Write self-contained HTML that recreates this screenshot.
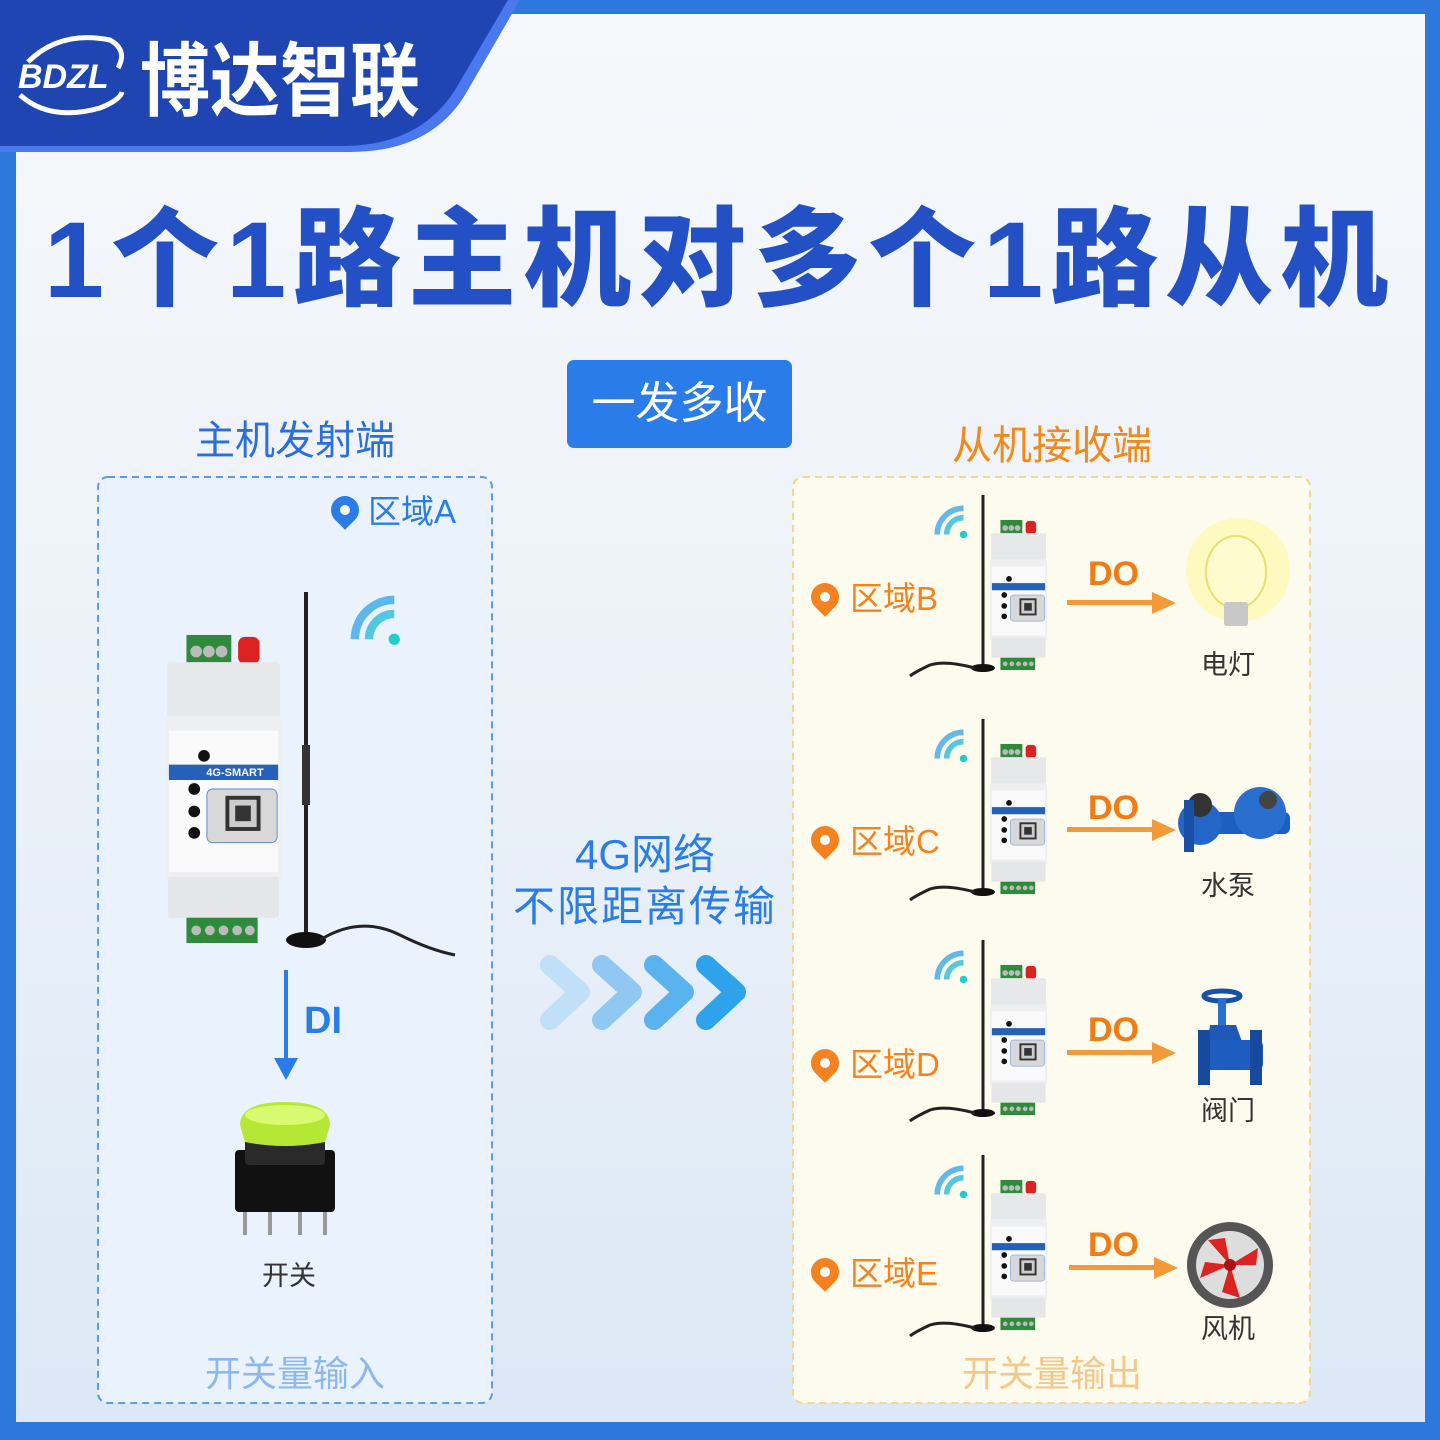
<!DOCTYPE html>
<html><head><meta charset="utf-8">
<style>
*{margin:0;padding:0;box-sizing:border-box}
body{width:1440px;height:1440px;position:relative;overflow:hidden;background:#2c78dc;font-family:"Liberation Sans","Noto Sans CJK SC",sans-serif}
.inner{position:absolute;left:16px;top:14px;width:1409px;height:1408px;background:linear-gradient(180deg,#f6f8fb 0%,#eef3f9 40%,#dce8f6 100%)}
.a{position:absolute;white-space:nowrap}
</style></head><body>
<div class="inner"></div>
<svg class="a" style="left:0;top:0" width="1440" height="1440">
<defs>
<symbol id="dev" viewBox="0 0 120 320">
 <rect x="22" y="2" width="46" height="28" fill="#2f8a3c"/>
 <circle cx="32" cy="19" r="6" fill="#bbb"/><circle cx="45" cy="19" r="6" fill="#bbb"/><circle cx="58" cy="19" r="6" fill="#bbb"/>
 <rect x="75" y="4" width="22" height="28" rx="7" fill="#d22"/>
 <rect x="2" y="30" width="116" height="60" rx="4" fill="#e6e8ea"/>
 <rect x="0" y="85" width="120" height="170" rx="3" fill="#eeeff0"/>
 <rect x="4" y="100" width="112" height="145" fill="#fafafa"/>
 <rect x="4" y="135" width="112" height="15" fill="#2660b8"/>
 <circle cx="40" cy="126" r="6" fill="#111"/><circle cx="30" cy="160" r="6" fill="#111"/><circle cx="30" cy="183" r="6" fill="#111"/><circle cx="30" cy="205" r="6" fill="#111"/>
 <rect x="43" y="160" width="72" height="55" rx="6" fill="#d8d8d8" stroke="#5a8ad8"/>
 <rect x="62" y="167" width="36" height="36" fill="#333"/><rect x="66" y="171" width="28" height="28" fill="#ccc"/><rect x="72" y="177" width="16" height="16" fill="#333"/>
 <rect x="3" y="250" width="114" height="42" rx="3" fill="#e4e6e8"/>
 <rect x="22" y="292" width="73" height="26" fill="#2f8a3c"/>
 <circle cx="32" cy="305" r="5" fill="#bbb"/><circle cx="46" cy="305" r="5" fill="#bbb"/><circle cx="60" cy="305" r="5" fill="#bbb"/><circle cx="74" cy="305" r="5" fill="#bbb"/><circle cx="87" cy="305" r="5" fill="#bbb"/>
</symbol>
<symbol id="wifi" viewBox="0 0 80 80">
 <path d="M18 60 A 42 42 0 0 1 60 18" fill="none" stroke="#3aa8e8" stroke-width="9" opacity=".8"/>
 <path d="M33 60 A 27 27 0 0 1 60 33" fill="none" stroke="#2bbbd8" stroke-width="9" opacity=".8"/>
 <circle cx="60" cy="60" r="6" fill="#2cc"/>
</symbol>
</defs>
<path d="M0 0 H520 L465 95 Q430 152 350 152 H0 Z" fill="#4a78ee"/>
<path d="M0 0 H508 L455 90 Q420 145 345 146 H0 Z" fill="#1f45b2"/>
<path d="M28 62 Q60 30 110 40 Q128 50 118 68" fill="none" stroke="#fff" stroke-width="5"/>
<path d="M20 95 Q50 122 100 108 Q120 100 122 92" fill="none" stroke="#fff" stroke-width="5"/>
<rect x="98" y="477" width="394" height="926" rx="10" fill="#eaf3fd" stroke="#5b9be8" stroke-width="2" stroke-dasharray="7 5"/>
<rect x="793" y="477" width="517" height="926" rx="10" fill="#fdfaee" stroke="#f3d690" stroke-width="2" stroke-dasharray="7 5"/>
<rect x="567" y="360" width="225" height="88" rx="7" fill="#2a7de8"/>
<use href="#wifi" x="338" y="583" width="75" height="75"/>
<line x1="306" y1="592" x2="306" y2="935" stroke="#222" stroke-width="4"/>
<rect x="302" y="745" width="8" height="60" fill="#333"/>
<ellipse cx="306" cy="940" rx="20" ry="8" fill="#111"/>
<path d="M320 940 Q360 915 400 935 Q430 950 455 955" fill="none" stroke="#222" stroke-width="3"/>
<use href="#dev" x="165" y="630" width="117" height="318"/>
<rect x="169" y="765" width="109" height="15" fill="#2660b8"/>
<line x1="286" y1="970" x2="286" y2="1062" stroke="#2a7de8" stroke-width="4"/>
<path d="M274 1058 L286 1080 L298 1058 Z" fill="#2a7de8"/>
<rect x="235" y="1150" width="100" height="62" rx="4" fill="#111"/>
<rect x="245" y="1130" width="80" height="35" rx="4" fill="#2a2a2a"/>
<path d="M240 1125 Q240 1102 285 1102 Q330 1102 330 1125 L325 1142 Q285 1150 245 1142 Z" fill="#b5e835"/>
<ellipse cx="285" cy="1115" rx="40" ry="10" fill="#d8fa70"/>
<line x1="245" y1="1212" x2="245" y2="1235" stroke="#999" stroke-width="4"/><line x1="270" y1="1212" x2="270" y2="1235" stroke="#999" stroke-width="4"/><line x1="300" y1="1212" x2="300" y2="1235" stroke="#999" stroke-width="4"/><line x1="325" y1="1212" x2="325" y2="1235" stroke="#999" stroke-width="4"/>
<g fill="none" stroke-width="20" stroke-linecap="round" stroke-linejoin="round">
<path d="M550 965 L580 992 L550 1020" stroke="#c0e0f8"/>
<path d="M602 965 L632 992 L602 1020" stroke="#90c8f2"/>
<path d="M654 965 L684 992 L654 1020" stroke="#5ab2ee"/>
<path d="M706 965 L736 992 L706 1020" stroke="#2ea2ea"/>
</g>
<g id="r1">
<use href="#wifi" x="926" y="497" width="50" height="50"/>
<line x1="983" y1="495" x2="983" y2="665" stroke="#222" stroke-width="3"/>
<ellipse cx="983" cy="668" rx="12" ry="4" fill="#111"/>
<path d="M975 668 Q945 660 930 665 Q915 672 910 676" fill="none" stroke="#222" stroke-width="3"/>
<use href="#dev" x="990" y="518" width="57" height="154"/>
</g>
<use href="#r1" y="224"/>
<use href="#r1" y="445"/>
<use href="#r1" y="660"/>
<g fill="#f29a38">
<rect x="1067" y="600" width="88" height="5"/><path d="M1152 592 L1176 603 L1152 614 Z"/>
<rect x="1067" y="827" width="88" height="5"/><path d="M1152 819 L1176 830 L1152 841 Z"/>
<rect x="1067" y="1050" width="88" height="5"/><path d="M1152 1042 L1176 1053 L1152 1064 Z"/>
<rect x="1069" y="1265" width="88" height="5"/><path d="M1154 1257 L1178 1268 L1154 1279 Z"/>
</g>
<circle cx="1238" cy="570" r="52" fill="#fff9a0" opacity=".6"/>
<ellipse cx="1236" cy="572" rx="30" ry="36" fill="#fffbd0" stroke="#e8e070" stroke-width="2"/>
<rect x="1224" y="602" width="24" height="24" rx="3" fill="#c8c8c8"/>
<rect x="1180" y="812" width="110" height="22" rx="6" fill="#1c5fc0"/>
<circle cx="1200" cy="823" r="22" fill="#2466c8"/>
<circle cx="1260" cy="813" r="26" fill="#2a6ed0"/>
<circle cx="1200" cy="805" r="12" fill="#333"/>
<circle cx="1268" cy="800" r="9" fill="#444"/>
<rect x="1184" y="800" width="10" height="52" fill="#1a4fa8"/>
<ellipse cx="1222" cy="996" rx="18" ry="5" fill="none" stroke="#1a4fa8" stroke-width="5"/>
<rect x="1218" y="998" width="8" height="28" fill="#2a6ed0"/>
<path d="M1210 1025 L1236 1025 L1245 1050 Q1230 1080 1205 1065 Z" fill="#2058b8"/>
<rect x="1198" y="1040" width="65" height="30" rx="6" fill="#1f5cc0"/>
<rect x="1198" y="1030" width="12" height="55" fill="#174a9e"/><rect x="1250" y="1030" width="12" height="55" fill="#174a9e"/>
<circle cx="1230" cy="1265" r="43" fill="#555"/>
<circle cx="1230" cy="1265" r="34" fill="#ddd"/>
<path d="M1230 1265 L1208 1240 L1225 1238 Z M1230 1265 L1258 1248 L1256 1265 Z M1230 1265 L1240 1298 L1222 1292 Z M1230 1265 L1200 1278 L1205 1262 Z" fill="#d22"/>
<circle cx="1230" cy="1265" r="6" fill="#a11"/>
</svg>
<div class="a" style="left:331px;top:496px;width:28px;height:28px;border-radius:50% 50% 50% 0;transform:rotate(-45deg);background:#2a7de8"></div>
<div class="a" style="left:340px;top:505px;width:10px;height:10px;border-radius:50%;background:#fff"></div>
<div class="a" style="left:811px;top:583px;width:28px;height:28px;border-radius:50% 50% 50% 0;transform:rotate(-45deg);background:#f5821f"></div>
<div class="a" style="left:820px;top:592px;width:10px;height:10px;border-radius:50%;background:#fff"></div>
<div class="a" style="left:811px;top:826px;width:28px;height:28px;border-radius:50% 50% 50% 0;transform:rotate(-45deg);background:#f5821f"></div>
<div class="a" style="left:820px;top:835px;width:10px;height:10px;border-radius:50%;background:#fff"></div>
<div class="a" style="left:811px;top:1049px;width:28px;height:28px;border-radius:50% 50% 50% 0;transform:rotate(-45deg);background:#f5821f"></div>
<div class="a" style="left:820px;top:1058px;width:10px;height:10px;border-radius:50%;background:#fff"></div>
<div class="a" style="left:811px;top:1258px;width:28px;height:28px;border-radius:50% 50% 50% 0;transform:rotate(-45deg);background:#f5821f"></div>
<div class="a" style="left:820px;top:1267px;width:10px;height:10px;border-radius:50%;background:#fff"></div>

<div class="a" style="left:18px;top:58px;color:#fff;font:italic bold 34px 'Liberation Sans',sans-serif">BDZL</div>
<div class="a" style="left:140px;top:30px;color:#fff;font-size:70px;font-weight:bold;line-height:90px;transform:scaleY(1.15);transform-origin:left top">博达智联</div>
<div class="a" style="left:44px;top:190px;width:1400px;color:#2350c4;font-size:108px;font-weight:900;line-height:140px;letter-spacing:7px">1个1路主机对多个1路从机</div>
<div class="a" style="left:567px;top:360px;width:225px;text-align:center;color:#fff;font-size:44px;line-height:88px">一发多收</div>
<div class="a" style="left:190px;top:416px;width:210px;text-align:center;color:#2a6fe0;font-size:40px;line-height:50px">主机发射端</div>
<div class="a" style="left:945px;top:421px;width:214px;text-align:center;color:#f08a1a;font-size:40px;line-height:50px">从机接收端</div>
<div class="a" style="left:368px;top:490px;color:#2a7de8;font-size:33px;line-height:44px">区域A</div>
<div class="a" style="left:190px;top:767px;width:90px;text-align:center;color:#fff;font:bold 11px 'Liberation Sans',sans-serif">4G-SMART</div>
<div class="a" style="left:304px;top:1000px;color:#2a7de8;font:bold 38px 'Liberation Sans',sans-serif">DI</div>
<div class="a" style="left:262px;top:1258px;color:#333;font-size:27px;line-height:36px">开关</div>
<div class="a" style="left:195px;top:1350px;width:200px;text-align:center;color:#8cb8ee;font-size:36px;line-height:48px">开关量输入</div>
<div class="a" style="left:500px;top:828px;width:290px;text-align:center;color:#2a7de8;font-size:42px;line-height:54px">4G网络</div>
<div class="a" style="left:500px;top:880px;width:290px;text-align:center;color:#2a7de8;font-size:42px;line-height:54px;letter-spacing:2px">不限距离传输</div>
<div class="a" style="left:850px;top:577px;color:#f5821f;font-size:33px;line-height:44px">区域B</div>
<div class="a" style="left:850px;top:820px;color:#f5821f;font-size:33px;line-height:44px">区域C</div>
<div class="a" style="left:850px;top:1043px;color:#f5821f;font-size:33px;line-height:44px">区域D</div>
<div class="a" style="left:850px;top:1252px;color:#f5821f;font-size:33px;line-height:44px">区域E</div>
<div class="a" style="left:1088px;top:555px;color:#f57a10;font:bold 34px 'Liberation Sans',sans-serif">DO</div>
<div class="a" style="left:1088px;top:789px;color:#f57a10;font:bold 34px 'Liberation Sans',sans-serif">DO</div>
<div class="a" style="left:1088px;top:1011px;color:#f57a10;font:bold 34px 'Liberation Sans',sans-serif">DO</div>
<div class="a" style="left:1088px;top:1226px;color:#f57a10;font:bold 34px 'Liberation Sans',sans-serif">DO</div>
<div class="a" style="left:1201px;top:647px;color:#333;font-size:27px;line-height:36px">电灯</div>
<div class="a" style="left:1201px;top:868px;color:#333;font-size:27px;line-height:36px">水泵</div>
<div class="a" style="left:1201px;top:1093px;color:#333;font-size:27px;line-height:36px">阀门</div>
<div class="a" style="left:1201px;top:1311px;color:#333;font-size:27px;line-height:36px">风机</div>
<div class="a" style="left:952px;top:1350px;width:200px;text-align:center;color:#f2c98a;font-size:36px;line-height:48px">开关量输出</div>
</body></html>
